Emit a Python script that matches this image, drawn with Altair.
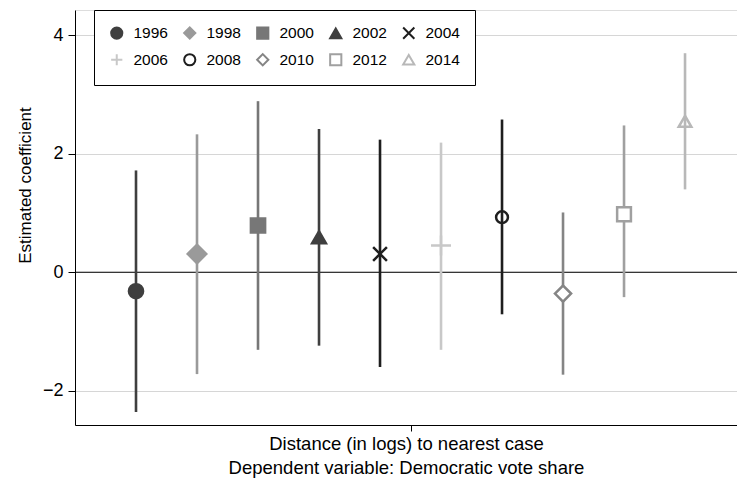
import altair as alt
import pandas as pd

years = ["1996", "1998", "2000", "2002", "2004", "2006", "2008", "2010", "2012", "2014"]
positions = [1, 2, 3, 4, 5, 6, 7, 8, 9, 10]
estimate = [-0.32, 0.31, 0.79, 0.59, 0.31, 0.45, 0.93, -0.36, 0.98, 2.55]
lower = [-2.36, -1.72, -1.31, -1.24, -1.60, -1.31, -0.71, -1.73, -0.42, 1.40]
upper = [1.72, 2.33, 2.89, 2.42, 2.24, 2.19, 2.58, 1.01, 2.48, 3.70]

colors = ["#3f3f3f", "#9a9a9a", "#777777", "#3f3f3f", "#1e1e1e",
          "#c8c8c8", "#1e1e1e", "#858585", "#a0a0a0", "#b8b8b8"]
shapes = ["circle", "diamond", "square", "triangle-up",
          "M-1,-1L1,1M-1,1L1,-1", "M-1,0L1,0M0,-1L0,1",
          "circle", "diamond", "square", "triangle-up"]
fills = ["#3f3f3f", "#9a9a9a", "#777777", "#3f3f3f", "transparent",
         "transparent", "transparent", "white", "white", "transparent"]
sizes = [200, 342, 202, 190, 190, 400, 140, 260, 190, 160]

df = pd.DataFrame({"year": years, "pos": positions, "est": estimate,
                   "lo": lower, "hi": upper})

FONT = "Liberation Sans"
YTITLE = "Estimated coefficient"
XTITLE = ["Distance (in logs) to nearest case",
          "Dependent variable: Democratic vote share"]

xscale = alt.Scale(domain=[0, 10.852], nice=False, zero=False)
yscale = alt.Scale(domain=[-2.58, 4.43], nice=False, zero=False)

xaxis = alt.Axis(values=[5.5], labels=False, grid=False, tickSize=6,
                 tickColor="black", domainColor="black", title=XTITLE,
                 titlePadding=3, titleFontSize=18.5, titleFont=FONT,
                 titleFontWeight="normal", titleColor="black", titleLineHeight=24)
yaxis = alt.Axis(values=[-2, 0, 2, 4], grid=True, gridColor="#d6d6d6",
                 tickSize=7, tickColor="black", domainColor="black",
                 labelFontSize=18, labelFont=FONT, labelColor="black",
                 labelPadding=5, title=YTITLE, titleFontSize=17, titleFont=FONT,
                 titleFontWeight="normal", titleColor="black",
                 titleX=-45, titleY=175, titleBaseline="alphabetic")

legend = alt.Legend(
    title=None, orient="none", legendX=19, legendY=0, columns=5,
    direction="horizontal",
    strokeColor="black", fillColor="white", padding=15,
    columnPadding=12, rowPadding=7, labelFontSize=15.5, labelFont=FONT,
    labelColor="black", labelOffset=9, symbolSize=125, symbolStrokeWidth=2,
    symbolOpacity=1,
)

stroke_scale = alt.Scale(domain=years, range=colors)
fill_scale = alt.Scale(domain=years, range=fills)
shape_scale = alt.Scale(domain=years, range=shapes)

base = alt.Chart(df)

zero = alt.Chart(pd.DataFrame({"z": [0]})).mark_rule(
    color="black", strokeWidth=1.2
).encode(y=alt.Y("z:Q", scale=yscale, axis=yaxis, title=YTITLE))

bar_layers = []
point_layers = []
for yr, col, sz in zip(years, colors, sizes):
    sub = base.transform_filter(alt.datum.year == yr)
    bar_layers.append(
        sub.mark_rule(strokeWidth=2.6, color=col).encode(
            x=alt.X("pos:Q", scale=xscale, axis=xaxis, title=XTITLE),
            y=alt.Y("lo:Q", scale=yscale, axis=yaxis, title=YTITLE),
            y2="hi:Q",
        )
    )
    point_layers.append(
        sub.mark_point(strokeWidth=2.5, opacity=1, size=sz).encode(
            x=alt.X("pos:Q", scale=xscale, axis=xaxis, title=XTITLE),
            y=alt.Y("est:Q", scale=yscale, axis=yaxis, title=YTITLE),
            stroke=alt.Stroke("year:N", scale=stroke_scale, legend=legend),
            fill=alt.Fill("year:N", scale=fill_scale, legend=legend),
            shape=alt.Shape("year:N", scale=shape_scale, legend=legend),
        )
    )

chart = alt.layer(zero, *bar_layers, *point_layers).properties(
    width=662, height=415,
    padding={"left": 75, "top": 10, "right": 0, "bottom": 54},
    autosize=alt.AutoSizeParams(type="none"),
).configure_view(stroke=None).configure(font=FONT)

chart.save("out.html", embed_options={"renderer": "svg", "actions": False})
